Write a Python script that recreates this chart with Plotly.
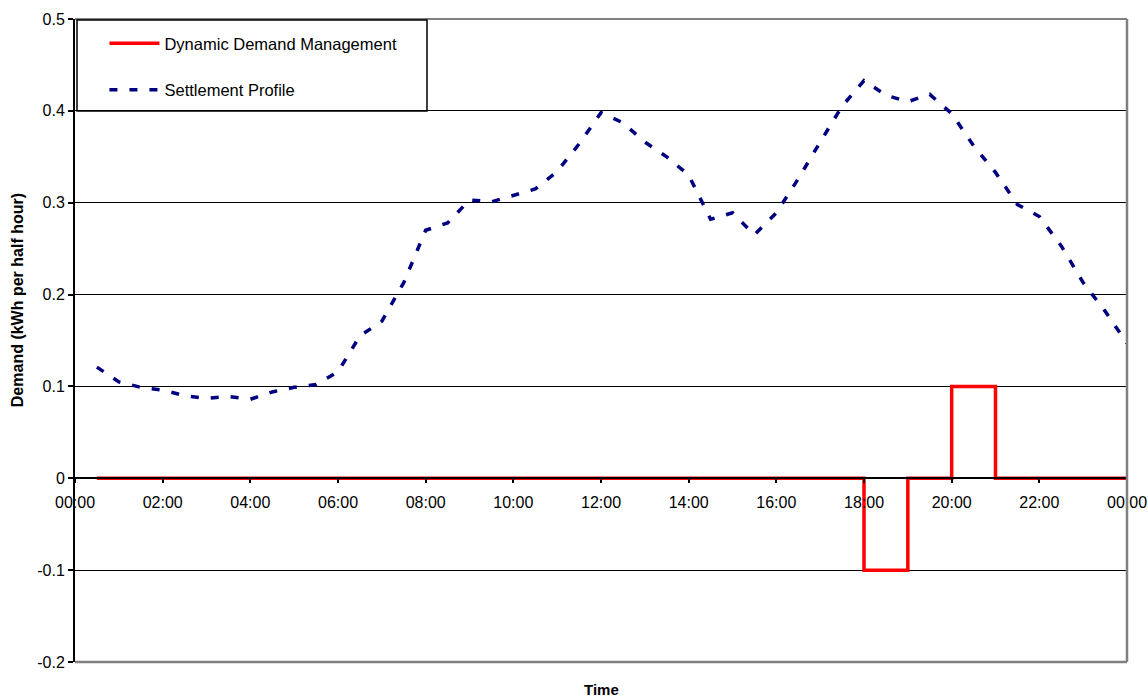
import plotly.graph_objects as go

# Half-hourly settlement periods (end of period)
time_slots = [
    "00:30", "01:00", "01:30", "02:00", "02:30", "03:00", "03:30", "04:00",
    "04:30", "05:00", "05:30", "06:00", "06:30", "07:00", "07:30", "08:00",
    "08:30", "09:00", "09:30", "10:00", "10:30", "11:00", "11:30", "12:00",
    "12:30", "13:00", "13:30", "14:00", "14:30", "15:00", "15:30", "16:00",
    "16:30", "17:00", "17:30", "18:00", "18:30", "19:00", "19:30", "20:00",
    "20:30", "21:00", "21:30", "22:00", "22:30", "23:00", "23:30", "24:00",
]

# Demand shift from dynamic demand management (kWh per half hour)
dynamic_demand = [
    0, 0, 0, 0, 0, 0, 0, 0,
    0, 0, 0, 0, 0, 0, 0, 0,
    0, 0, 0, 0, 0, 0, 0, 0,
    0, 0, 0, 0, 0, 0, 0, 0,
    0, 0, 0, -0.1, -0.1, 0, 0, 0.1,
    0.1, 0, 0, 0, 0, 0, 0, 0,
]

# Settlement profile demand (kWh per half hour)
settlement_profile = [
    0.121, 0.105, 0.099, 0.096, 0.090, 0.087, 0.089, 0.086,
    0.094, 0.099, 0.102, 0.116, 0.155, 0.171, 0.213, 0.270,
    0.278, 0.303, 0.301, 0.308, 0.315, 0.334, 0.364, 0.398,
    0.387, 0.366, 0.350, 0.330, 0.282, 0.289, 0.265, 0.289,
    0.326, 0.366, 0.405, 0.433, 0.417, 0.410, 0.418, 0.397,
    0.362, 0.333, 0.298, 0.285, 0.253, 0.213, 0.182, 0.147,
]

x_tick_hours = [0, 2, 4, 6, 8, 10, 12, 14, 16, 18, 20, 22, 24]
x_tick_labels = ["00:00", "02:00", "04:00", "06:00", "08:00", "10:00", "12:00",
                 "14:00", "16:00", "18:00", "20:00", "22:00", "00:00"]
y_tick_values = [-0.2, -0.1, 0, 0.1, 0.2, 0.3, 0.4, 0.5]
y_tick_labels = ["-0.2", "-0.1", "0", "0.1", "0.2", "0.3", "0.4", "0.5"]

hours = [int(t[:2]) + int(t[3:]) / 60 for t in time_slots]

FONT = "Liberation Sans, Arial, sans-serif"

fig = go.Figure()
fig.add_trace(go.Scatter(
    x=hours, y=dynamic_demand, mode="lines", line_shape="hv",
    name="Dynamic Demand Management", legendgroup="ddm",
    line=dict(color="#FF0000", width=3.5),
))
fig.add_trace(go.Scatter(
    x=hours, y=settlement_profile, mode="lines",
    name="Settlement Profile", legendgroup="sp",
    line=dict(color="#000080", width=3.5, dash="8px,12px"),
))

y_range = [-0.2, 0.5]
zero_pos = (0 - y_range[0]) / (y_range[1] - y_range[0])

fig.update_layout(
    width=1148, height=697,
    margin=dict(l=75, r=21, t=19, b=35),
    paper_bgcolor="white", plot_bgcolor="white",
    font=dict(family=FONT, size=16, color="black"),
    showlegend=True,
    legend=dict(
        x=0.028, y=0.989, xanchor="left", yanchor="top",
        bgcolor="rgba(0,0,0,0)", borderwidth=0,
        font=dict(family=FONT, size=16.5, color="black"),
        itemwidth=50, tracegroupgap=22,
    ),
    xaxis=dict(
        range=[0, 24], anchor="free", position=zero_pos, automargin=False,
        tickmode="array", tickvals=x_tick_hours, ticktext=x_tick_labels,
        showgrid=False, zeroline=False,
        showline=True, linecolor="black", linewidth=1.5,
        ticks="outside", ticklen=4, tickcolor="black", tickwidth=1.5,
        ticklabelstandoff=6,
        tickfont=dict(family=FONT, size=16, color="black"),
    ),
    yaxis=dict(
        range=y_range, automargin=False,
        tickmode="array", tickvals=y_tick_values, ticktext=y_tick_labels,
        showgrid=True, gridcolor="black", gridwidth=1.2, zeroline=False,
        showline=True, linecolor="black", linewidth=2,
        ticks="outside", ticklen=5, tickcolor="black", tickwidth=1.5,
        tickfont=dict(family=FONT, size=16, color="black"),
    ),
    shapes=[
        # plot-area frame (top, right, bottom)
        dict(type="line", xref="paper", yref="paper", x0=0, x1=1, y0=1, y1=1,
             line=dict(color="#808080", width=2), layer="above"),
        dict(type="line", xref="paper", yref="paper", x0=1, x1=1, y0=0, y1=1,
             line=dict(color="#808080", width=2.5), layer="above"),
        dict(type="line", xref="paper", yref="paper", x0=0, x1=1, y0=0, y1=0,
             line=dict(color="#808080", width=2.5), layer="above"),
        # legend box
        dict(type="rect", xref="paper", yref="paper",
             x0=0.0019, x1=0.3346, y0=0.857, y1=0.9984,
             line=dict(color="black", width=1.5), layer="above"),
    ],
    annotations=[
        dict(text="<b>Time</b>", xref="paper", yref="paper", x=0.5, y=-0.0435,
             xanchor="center", yanchor="middle", showarrow=False,
             font=dict(family=FONT, size=15, color="black")),
        dict(text="<b>Demand (kWh per half hour)</b>", xref="paper", yref="paper",
             x=-0.054, y=0.563, textangle=-90, xanchor="center", yanchor="middle",
             showarrow=False, font=dict(family=FONT, size=16, color="black")),
    ],
)

fig.write_html("out.html")
